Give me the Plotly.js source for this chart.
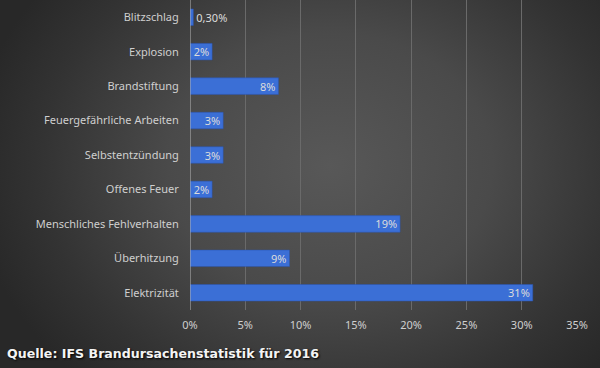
<!DOCTYPE html>
<html>
<head>
<meta charset="utf-8">
<script src="https://cdn.plot.ly/plotly-3.0.1.min.js"></script>
<style>
html,body{margin:0;padding:0;}
#chart{width:600px;height:368px;background:radial-gradient(ellipse 60% 80% at 55% 45%, #585858 0%, #4a4a4a 45%, #333 80%, #282828 100%);}
</style>
</head>
<body>
<div id="chart"></div>
<script>
const categories = ["Blitzschlag","Explosion","Brandstiftung","Feuergefährliche Arbeiten","Selbstentzündung","Offenes Feuer","Menschliches Fehlverhalten","Überhitzung","Elektrizität"];
const values = [0.3, 2, 8, 3, 3, 2, 19, 9, 31];
const labels = ["0,30%","2%","8%","3%","3%","2%","19%","9%","31%"];
const tickVals = [0,5,10,15,20,25,30,35];
const tickText = ["0%","5%","10%","15%","20%","25%","30%","35%"];
const sourceText = "Quelle: IFS Brandursachenstatistik für 2016";

const positions = values.map(v => v < 1 ? "outside" : "inside");

const trace = {
  type: "bar",
  orientation: "h",
  y: categories,
  x: values,
  text: labels,
  textposition: positions,
  insidetextanchor: "end",
  constraintext: "none",
  cliponaxis: false,
  textfont: {family: "Noto Sans, sans-serif", size: 11, color: "#dcdcdc"},
  marker: {color: "#3b6fd6", line: {color: "#2a55b0", width: 0.5}},
  hoverinfo: "none"
};

const layout = {
  width: 600, height: 368,
  paper_bgcolor: "rgba(0,0,0,0)",
  plot_bgcolor: "rgba(0,0,0,0)",
  margin: {l: 190, r: 23, t: 0, b: 58},
  bargap: 0.52,
  showlegend: false,
  xaxis: {
    range: [0, 35],
    tickvals: tickVals,
    ticktext: tickText,
    showgrid: true,
    gridcolor: "#6a6a6a",
    gridwidth: 1,
    zeroline: false,
    showline: false,
    ticks: "outside", ticklen: 5, tickcolor: "rgba(0,0,0,0)",
    tickfont: {family: "Noto Sans, sans-serif", size: 11, color: "#cfcfcf"},
    fixedrange: true
  },
  yaxis: {
    categoryorder: "array",
    categoryarray: categories,
    autorange: "reversed",
    showgrid: false,
    zeroline: false,
    ticks: "outside", ticklen: 8, tickcolor: "rgba(0,0,0,0)",
    tickfont: {family: "Noto Sans, sans-serif", size: 11, color: "#cfcfcf"},
    fixedrange: true
  },
  shapes: [{type: "line", xref: "x", yref: "paper", x0: 0, x1: 0, y0: 0, y1: 1, line: {color: "#b8b8b8", width: 1}}],
  annotations: [{
    xref: "paper", yref: "paper", x: -185/387, y: -43/310,
    xanchor: "left", yanchor: "middle",
    text: sourceText, showarrow: false,
    font: {family: "DejaVu Sans, sans-serif", size: 12.6, color: "#f4f4f4", weight: "bold", shadow: "1px 1px 2px #000"}
  }]
};

Plotly.newPlot("chart", [trace], layout, {displayModeBar: false, staticPlot: true});
</script>
</body>
</html>
